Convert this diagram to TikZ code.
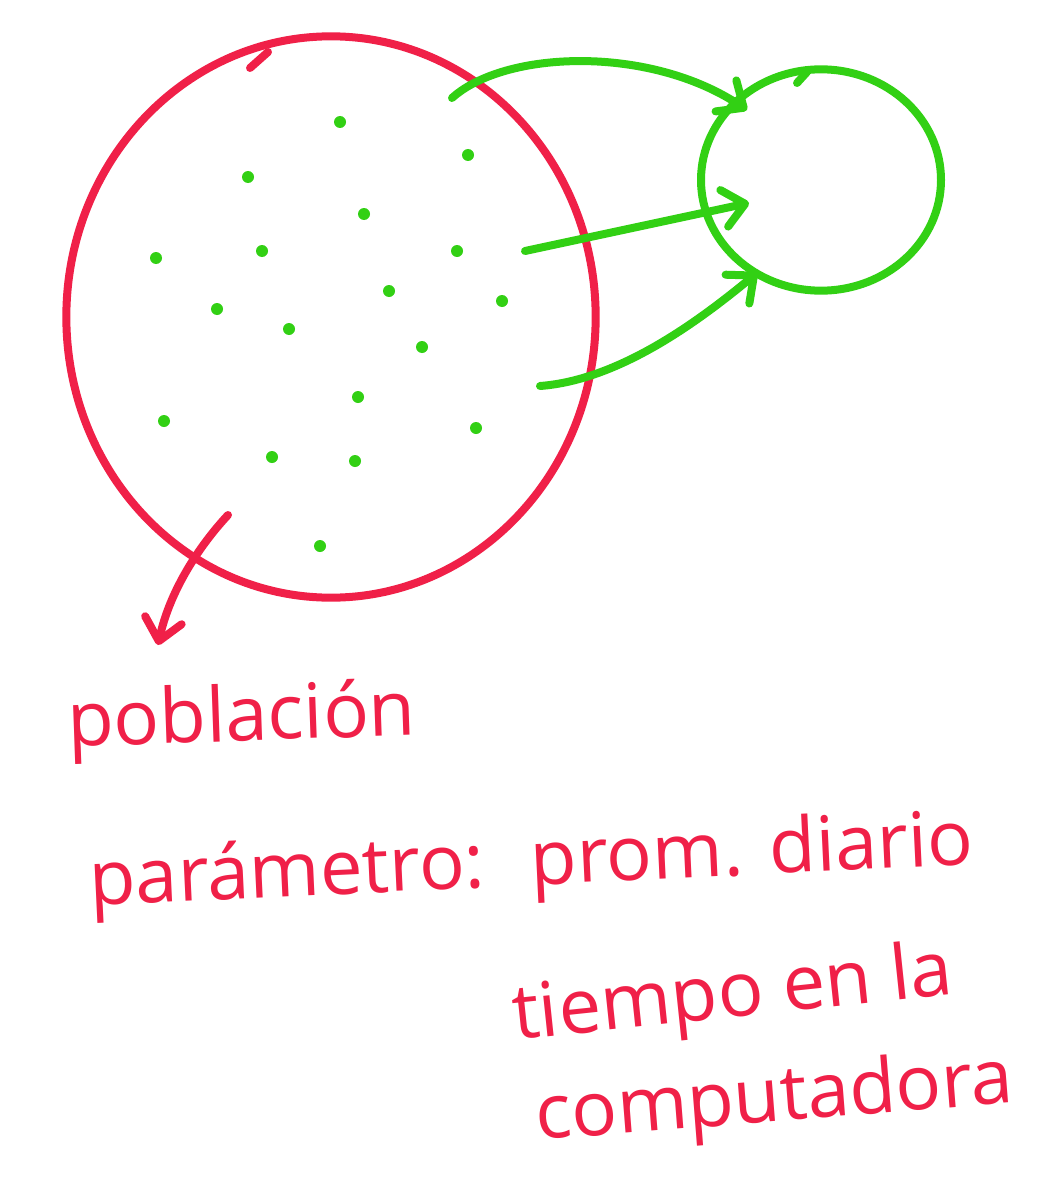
\documentclass[tikz,border=0pt]{standalone}
\usepackage{fontspec}
\setmainfont{Open Sans}
\usetikzlibrary{arrows.meta,shapes.geometric,calc}
\definecolor{hred}{RGB}{240,32,72}
\definecolor{hgreen}{RGB}{50,208,20}
\begin{document}
\begin{tikzpicture}[x=0.75pt,y=-0.75pt,
  redline/.style={draw=hred,line width=6pt,line cap=round,line join=round},
  greenline/.style={draw=hgreen,line width=6pt,line cap=round,line join=round},
  popshape/.style={ellipse,redline,minimum width=397pt,minimum height=421pt,inner sep=0pt},
  sampleshape/.style={ellipse,greenline,minimum width=180pt,minimum height=166pt,inner sep=0pt},
  gdot/.style={circle,fill=hgreen,draw=none,inner sep=0pt,minimum size=9pt},
  handtip/.style={-{Straight Barb[length=16pt,width=28pt,round]}},
  hand/.style={text=hred,font=\fontsize{57}{62}\selectfont,inner sep=0pt,anchor=base west}]
\fill[white] (0,0) rectangle (1051,1184);
\useasboundingbox (0,0) rectangle (1051,1184);

% population and sample
\node[popshape] (pop) at (331,317) {};
\node[sampleshape] (sample) at (821,180) {};
\draw[redline] (250,68) -- (268,52);
\draw[greenline] (797,83) -- (807,72);

% individuals
\node[gdot] (d1) at (340,122) {};
\node[gdot] (d2) at (468,155) {};
\node[gdot] (d3) at (248,177) {};
\node[gdot] (d4) at (364,214) {};
\node[gdot] (d5) at (457,251) {};
\node[gdot] (d6) at (156,258) {};
\node[gdot] (d7) at (262,251) {};
\node[gdot] (d8) at (389,291) {};
\node[gdot] (d9) at (502,301) {};
\node[gdot] (d10) at (217,309) {};
\node[gdot] (d11) at (289,329) {};
\node[gdot] (d12) at (422,347) {};
\node[gdot] (d13) at (358,397) {};
\node[gdot] (d14) at (476,428) {};
\node[gdot] (d15) at (164,421) {};
\node[gdot] (d16) at (272,457) {};
\node[gdot] (d17) at (355,461) {};
\node[gdot] (d18) at (320,546) {};

% sampling arrows
\coordinate (s1) at (452,98);
\coordinate (s2) at (525,251);
\coordinate (s3) at (540,386);
\coordinate (t1) at ($(sample.center)+(-74,-70)$);
\coordinate (t2) at ($(sample.center)+(-72,23)$);
\coordinate (t3) at ($(sample.center)+(-64,93)$);
\draw[greenline,handtip] (s1) .. controls (505,50) and (650,45) .. (t1);
\draw[greenline,handtip] (s2) -- (t2);
\draw[greenline,handtip] (s3) .. controls (620,380) and (700,320) .. (t3);

% labels
\node[hand,rotate=2] (pob) at (68,747) {población};
\node[hand,rotate=2.7] (par) at (90,906) {parámetro:\hspace{0.6em}prom. diario};
\node[hand,rotate=6] (tie) at (515,1040) {tiempo en la};
\node[hand,rotate=4.5] (comp) at (537,1140) {computadora};

\coordinate (r0) at (228,515);
\coordinate (r1) at (158,645);
\draw[redline,handtip] (r0) .. controls (200,545) and (170,590) .. (r1);
\end{tikzpicture}
\end{document}
